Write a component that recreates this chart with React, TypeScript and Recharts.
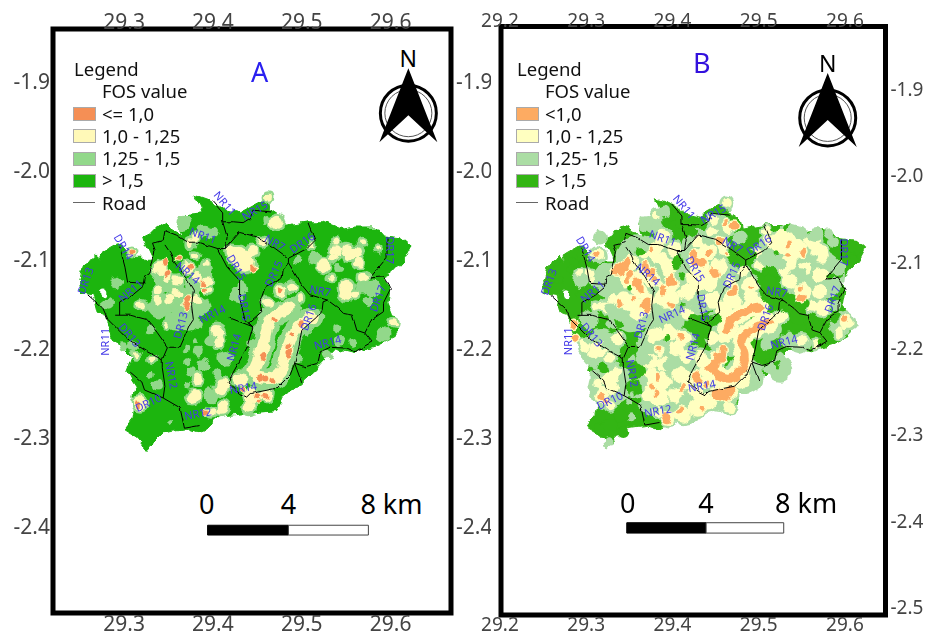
import React from 'react';
import { ScatterChart, Scatter, XAxis, YAxis, ZAxis, ReferenceArea } from 'recharts';

type Patch = [number, number, number];
type Pt = [number, number];

const FONT = '"Noto Sans", sans-serif';

// [lon, lat] of the catchment boundary
const OUTLINE: Pt[] = [
  [29.250, -2.123], [29.254, -2.109], [29.261, -2.100], [29.269, -2.092], [29.270, -2.103], [29.276, -2.091],
  [29.290, -2.083], [29.297, -2.083], [29.310, -2.098], [29.323, -2.098], [29.331, -2.098], [29.323, -2.081],
  [29.321, -2.074], [29.337, -2.066], [29.349, -2.058], [29.354, -2.066], [29.366, -2.072], [29.361, -2.055],
  [29.368, -2.049], [29.389, -2.047], [29.380, -2.027], [29.397, -2.033], [29.416, -2.044], [29.430, -2.047],
  [29.450, -2.036], [29.462, -2.030], [29.464, -2.042], [29.479, -2.052], [29.481, -2.061], [29.506, -2.057],
  [29.524, -2.057], [29.547, -2.066], [29.560, -2.064], [29.585, -2.064], [29.592, -2.072], [29.611, -2.074],
  [29.624, -2.085], [29.616, -2.100], [29.602, -2.115], [29.592, -2.119], [29.600, -2.130], [29.597, -2.148],
  [29.602, -2.160], [29.609, -2.171], [29.603, -2.187], [29.585, -2.196], [29.560, -2.203], [29.540, -2.198],
  [29.518, -2.221], [29.500, -2.238], [29.478, -2.255], [29.472, -2.269], [29.444, -2.272], [29.438, -2.271],
  [29.411, -2.274], [29.393, -2.289], [29.382, -2.293], [29.371, -2.289], [29.344, -2.293], [29.332, -2.305],
  [29.326, -2.314], [29.314, -2.300], [29.299, -2.291], [29.310, -2.277], [29.312, -2.266], [29.310, -2.252],
  [29.314, -2.241], [29.304, -2.226], [29.310, -2.210], [29.299, -2.199], [29.287, -2.188], [29.276, -2.162],
  [29.270, -2.160], [29.265, -2.139], [29.252, -2.137],
];

const ROADS: Pt[][] = [
  [[29.399, -2.033], [29.411, -2.047], [29.411, -2.057], [29.416, -2.074], [29.414, -2.087]],
  [[29.346, -2.067], [29.359, -2.072], [29.372, -2.080], [29.383, -2.080], [29.405, -2.087], [29.414, -2.087], [29.430, -2.069], [29.450, -2.074], [29.470, -2.087], [29.485, -2.098]],
  [[29.411, -2.057], [29.423, -2.057], [29.434, -2.058], [29.442, -2.053], [29.445, -2.044], [29.467, -2.046]],
  [[29.485, -2.098], [29.506, -2.087], [29.515, -2.078], [29.507, -2.058]],
  [[29.485, -2.098], [29.485, -2.103], [29.500, -2.128], [29.509, -2.139], [29.529, -2.145], [29.541, -2.154], [29.547, -2.160], [29.557, -2.162], [29.562, -2.179], [29.571, -2.182], [29.579, -2.192], [29.560, -2.203], [29.551, -2.199], [29.532, -2.198], [29.521, -2.203], [29.518, -2.216], [29.504, -2.220], [29.492, -2.216]],
  [[29.596, -2.074], [29.596, -2.097], [29.586, -2.109], [29.577, -2.120], [29.592, -2.119], [29.600, -2.132], [29.592, -2.148], [29.592, -2.158], [29.579, -2.167], [29.571, -2.182]],
  [[29.529, -2.145], [29.524, -2.147], [29.523, -2.156], [29.517, -2.164], [29.500, -2.179], [29.496, -2.201], [29.492, -2.216], [29.487, -2.229], [29.472, -2.244], [29.442, -2.250], [29.438, -2.254], [29.430, -2.250], [29.417, -2.238], [29.423, -2.226], [29.438, -2.199], [29.445, -2.175], [29.419, -2.165]],
  [[29.492, -2.216], [29.500, -2.238]],
  [[29.485, -2.103], [29.479, -2.111], [29.478, -2.120], [29.459, -2.130], [29.453, -2.147], [29.455, -2.158], [29.440, -2.171], [29.445, -2.175]],
  [[29.405, -2.087], [29.416, -2.108], [29.430, -2.123], [29.430, -2.142], [29.436, -2.167], [29.445, -2.175]],
  [[29.346, -2.083], [29.352, -2.092], [29.357, -2.103], [29.368, -2.117], [29.378, -2.134], [29.376, -2.151], [29.378, -2.167], [29.374, -2.173], [29.363, -2.198], [29.349, -2.198], [29.343, -2.212]],
  [[29.346, -2.067], [29.344, -2.078], [29.332, -2.081], [29.335, -2.089], [29.329, -2.115], [29.323, -2.119], [29.321, -2.130], [29.310, -2.139], [29.295, -2.147], [29.295, -2.162]],
  [[29.295, -2.085], [29.301, -2.108], [29.304, -2.125], [29.323, -2.126]],
  [[29.259, -2.139], [29.276, -2.154], [29.282, -2.167], [29.290, -2.175], [29.303, -2.188], [29.326, -2.203], [29.343, -2.212], [29.343, -2.221], [29.346, -2.241], [29.344, -2.255], [29.363, -2.266], [29.368, -2.289], [29.385, -2.286]],
  [[29.307, -2.226], [29.320, -2.237], [29.323, -2.246], [29.344, -2.255]],
  [[29.290, -2.162], [29.307, -2.162], [29.326, -2.167], [29.337, -2.181], [29.349, -2.198]],
];

const ROAD_LABELS: [string, number, number][] = [
  ['NR11', 29.414, -2.036], ['NR15', 29.447, -2.044], ['NR11', 29.389, -2.072], ['DR14', 29.300, -2.085],
  ['DR13', 29.256, -2.123], ['NR11', 29.307, -2.134], ['NR14', 29.372, -2.114], ['DR15', 29.427, -2.108],
  ['DR15', 29.436, -2.153], ['NR14', 29.399, -2.160], ['DR13', 29.363, -2.173], ['NR7', 29.470, -2.080],
  ['DR15', 29.468, -2.115], ['DR16', 29.500, -2.080], ['NR7', 29.521, -2.134], ['DR17', 29.600, -2.089],
  ['DR17', 29.585, -2.143], ['DR16', 29.507, -2.164], ['NR14', 29.529, -2.192], ['NR14', 29.423, -2.198],
  ['NR12', 29.354, -2.229], ['DR13', 29.307, -2.184], ['NR11', 29.278, -2.192], ['DR10', 29.327, -2.260],
  ['NR12', 29.383, -2.272], ['NR14', 29.434, -2.243],
];
const LABEL_TILT = [50, -30, 20, 60, -70, -40, 40, 60, 80, -25, -75, 30, -65, -35, 10, 90, -70, -70, -15, -75, 80, 50, -90, -25, -10, -10];

const HOLE: Patch[] = [[29.276, -2.136, 40]];

// panel A: [lon, lat, patch area]
const A_MID: Patch[] = [
  [29.368, -2.058, 201], [29.389, -2.066, 113], [29.282, -2.148, 113], [29.290, -2.125, 113], [29.320, -2.153, 79],
  [29.346, -2.123, 452], [29.363, -2.145, 616], [29.340, -2.151, 452], [29.380, -2.128, 314], [29.385, -2.151, 314],
  [29.374, -2.167, 314], [29.357, -2.167, 314], [29.391, -2.111, 201], [29.427, -2.139, 201], [29.400, -2.069, 113],
  [29.496, -2.100, 79], [29.515, -2.098, 154], [29.541, -2.109, 50], [29.569, -2.130, 201], [29.580, -2.132, 201],
  [29.575, -2.147, 79], [29.434, -2.130, 79], [29.541, -2.177, 50], [29.543, -2.190, 79], [29.557, -2.192, 79],
  [29.529, -2.207, 79], [29.592, -2.184, 154], [29.507, -2.182, 28], [29.496, -2.210, 50], [29.442, -2.192, 50],
  [29.299, -2.198, 79], [29.310, -2.196, 79], [29.329, -2.179, 50], [29.383, -2.173, 50], [29.382, -2.190, 28],
  [29.371, -2.199, 28], [29.383, -2.203, 79], [29.389, -2.218, 154], [29.371, -2.216, 28], [29.374, -2.226, 50],
  [29.372, -2.241, 28], [29.405, -2.229, 79], [29.414, -2.210, 201], [29.397, -2.252, 154], [29.337, -2.241, 79],
  [29.329, -2.229, 50], [29.352, -2.282, 28], [29.445, -2.226, 50], [29.397, -2.190, 113], [29.459, -2.055, 50],
];
const A_YELLOW: Patch[] = [
  [29.340, -2.109, 154], [29.349, -2.119, 79], [29.371, -2.109, 79], [29.374, -2.081, 50], [29.361, -2.123, 79],
  [29.382, -2.119, 79], [29.393, -2.123, 79], [29.338, -2.134, 50], [29.338, -2.145, 79], [29.352, -2.145, 79],
  [29.320, -2.151, 50], [29.359, -2.137, 50], [29.382, -2.145, 79], [29.397, -2.134, 28], [29.393, -2.103, 28],
  [29.380, -2.094, 28], [29.371, -2.147, 79], [29.310, -2.091, 28], [29.436, -2.102, 314], [29.428, -2.094, 201],
  [29.421, -2.091, 113], [29.380, -2.075, 50], [29.472, -2.057, 113], [29.444, -2.090, 79], [29.456, -2.080, 50],
  [29.524, -2.107, 113], [29.538, -2.078, 50], [29.538, -2.089, 79], [29.535, -2.098, 50], [29.551, -2.089, 113],
  [29.560, -2.092, 113], [29.554, -2.094, 113], [29.563, -2.103, 50], [29.569, -2.080, 28], [29.586, -2.087, 28],
  [29.512, -2.083, 28], [29.534, -2.120, 28], [29.551, -2.130, 113], [29.551, -2.139, 113], [29.569, -2.120, 79],
  [29.560, -2.139, 28], [29.489, -2.130, 79], [29.476, -2.134, 113], [29.462, -2.148, 50], [29.479, -2.154, 113],
  [29.498, -2.143, 28], [29.603, -2.171, 50], [29.445, -2.254, 201], [29.459, -2.252, 113], [29.440, -2.266, 79],
  [29.382, -2.233, 79], [29.378, -2.254, 154], [29.410, -2.243, 201], [29.406, -2.181, 154], [29.406, -2.193, 79],
  [29.411, -2.266, 113], [29.400, -2.271, 79], [29.430, -2.233, 154], [29.332, -2.212, 28], [29.314, -2.207, 28],
  [29.318, -2.261, 154], [29.450, -2.212, 79], [29.346, -2.173, 28], [29.462, -2.030, 50],
];
const A_GREEN: Patch[] = [];
const A_MID_TOP: Patch[] = [];
const A_ORANGE: Patch[] = [
  [29.346, -2.102, 50], [29.349, -2.115, 50], [29.361, -2.099, 20], [29.374, -2.108, 20], [29.388, -2.126, 28],
  [29.392, -2.134, 13], [29.371, -2.143, 50], [29.371, -2.152, 50], [29.310, -2.091, 20], [29.446, -2.110, 20],
  [29.476, -2.134, 28], [29.489, -2.184, 20], [29.485, -2.198, 28], [29.485, -2.205, 28], [29.470, -2.167, 20],
  [29.456, -2.209, 50], [29.453, -2.233, 28], [29.459, -2.233, 28], [29.467, -2.235, 28], [29.500, -2.171, 28],
  [29.451, -2.252, 28], [29.459, -2.253, 28], [29.451, -2.261, 20], [29.434, -2.246, 28], [29.314, -2.263, 20],
  [29.393, -2.272, 20],
];
const A_RIDGES: Pt[][] = [
  [[29.487, -2.154], [29.470, -2.162], [29.461, -2.175], [29.456, -2.198], [29.450, -2.216], [29.447, -2.229], [29.462, -2.233], [29.476, -2.227], [29.481, -2.209], [29.487, -2.190], [29.495, -2.176], [29.512, -2.164]],
];
const A_ORANGE_RIDGES: Pt[][] = [];

// panel B
const B_MID: Patch[] = [
  [29.362, -2.098, 1963], [29.327, -2.121, 1018], [29.397, -2.121, 1963], [29.351, -2.156, 1520], [29.391, -2.167, 1256],
  [29.432, -2.086, 1256], [29.455, -2.127, 1963], [29.432, -2.144, 707], [29.478, -2.144, 707], [29.536, -2.086, 1963],
  [29.571, -2.115, 1963], [29.513, -2.086, 707], [29.548, -2.127, 1256], [29.316, -2.202, 1256], [29.328, -2.242, 1520],
  [29.385, -2.202, 1963], [29.385, -2.248, 2463], [29.432, -2.231, 1963], [29.417, -2.271, 707], [29.466, -2.179, 1963],
  [29.483, -2.231, 1256], [29.455, -2.260, 452], [29.513, -2.179, 452], [29.525, -2.225, 452], [29.594, -2.172, 452],
  [29.548, -2.193, 314], [29.455, -2.061, 452], [29.380, -2.060, 201], [29.304, -2.167, 314], [29.316, -2.072, 154],
  [29.293, -2.121, 201],
];
const B_YELLOW: Patch[] = [
  [29.382, -2.046, 79], [29.389, -2.071, 201], [29.383, -2.083, 113], [29.401, -2.086, 154], [29.377, -2.090, 113],
  [29.385, -2.098, 201], [29.397, -2.106, 254], [29.366, -2.094, 50], [29.351, -2.101, 201], [29.336, -2.109, 154],
  [29.347, -2.121, 201], [29.362, -2.117, 154], [29.377, -2.121, 201], [29.397, -2.129, 254], [29.362, -2.133, 201],
  [29.343, -2.141, 113], [29.331, -2.144, 113], [29.351, -2.148, 201], [29.370, -2.146, 254], [29.389, -2.144, 254],
  [29.401, -2.141, 154], [29.322, -2.153, 113], [29.308, -2.121, 28], [29.314, -2.092, 113], [29.304, -2.115, 50],
  [29.293, -2.113, 28], [29.312, -2.152, 50], [29.359, -2.159, 201], [29.424, -2.121, 201], [29.426, -2.094, 154],
  [29.417, -2.136, 201], [29.417, -2.159, 113], [29.463, -2.032, 79], [29.447, -2.052, 79], [29.464, -2.061, 113],
  [29.446, -2.065, 79], [29.429, -2.077, 113], [29.458, -2.084, 113], [29.440, -2.089, 254], [29.455, -2.104, 201],
  [29.432, -2.107, 314], [29.443, -2.123, 254], [29.467, -2.123, 79], [29.429, -2.127, 201], [29.446, -2.144, 201],
  [29.470, -2.144, 201], [29.490, -2.127, 201], [29.509, -2.065, 79], [29.528, -2.077, 452], [29.544, -2.084, 314],
  [29.563, -2.077, 201], [29.571, -2.092, 254], [29.536, -2.100, 201], [29.554, -2.107, 113], [29.571, -2.115, 201],
  [29.498, -2.089, 113], [29.501, -2.104, 79], [29.536, -2.123, 201], [29.551, -2.135, 254], [29.571, -2.135, 154],
  [29.490, -2.142, 154], [29.513, -2.077, 113], [29.562, -2.152, 79], [29.574, -2.153, 154], [29.482, -2.112, 79],
  [29.602, -2.165, 50], [29.530, -2.112, 79], [29.299, -2.198, 154], [29.316, -2.200, 201], [29.337, -2.190, 113],
  [29.328, -2.211, 79], [29.328, -2.234, 201], [29.336, -2.227, 79], [29.314, -2.239, 79], [29.318, -2.248, 50],
  [29.330, -2.246, 113], [29.328, -2.266, 79], [29.319, -2.257, 201], [29.308, -2.208, 50], [29.380, -2.185, 201],
  [29.397, -2.181, 201], [29.412, -2.188, 201], [29.405, -2.200, 201], [29.385, -2.204, 79], [29.374, -2.216, 201],
  [29.389, -2.219, 201], [29.417, -2.208, 154], [29.374, -2.234, 201], [29.389, -2.239, 254], [29.409, -2.231, 254],
  [29.372, -2.254, 201], [29.385, -2.257, 254], [29.405, -2.254, 201], [29.417, -2.242, 113], [29.382, -2.274, 113],
  [29.397, -2.281, 154], [29.412, -2.277, 201], [29.428, -2.269, 201], [29.435, -2.216, 113], [29.440, -2.239, 154],
  [29.432, -2.262, 113], [29.451, -2.211, 113], [29.447, -2.188, 113], [29.463, -2.185, 154], [29.458, -2.156, 201],
  [29.486, -2.152, 154], [29.432, -2.210, 113], [29.458, -2.187, 113], [29.498, -2.182, 113], [29.513, -2.175, 154],
  [29.525, -2.164, 113], [29.551, -2.190, 79], [29.567, -2.194, 79], [29.594, -2.182, 79], [29.602, -2.171, 154],
  [29.478, -2.240, 113], [29.486, -2.237, 79], [29.455, -2.251, 201], [29.467, -2.268, 113], [29.441, -2.263, 201],
  [29.428, -2.252, 154], [29.455, -2.210, 113], [29.435, -2.237, 79], [29.470, -2.252, 113],
];
const B_GREEN: Patch[] = [
  [29.401, -2.043, 254], [29.411, -2.055, 154], [29.406, -2.098, 79], [29.405, -2.106, 50], [29.411, -2.117, 28],
  [29.336, -2.071, 113], [29.345, -2.067, 113], [29.362, -2.089, 50], [29.295, -2.092, 113], [29.285, -2.101, 113],
  [29.283, -2.109, 79], [29.304, -2.133, 79], [29.264, -2.101, 28], [29.270, -2.121, 50], [29.260, -2.117, 50],
  [29.296, -2.136, 79], [29.312, -2.133, 28], [29.302, -2.148, 50], [29.351, -2.130, 28], [29.424, -2.065, 50],
  [29.490, -2.090, 113], [29.478, -2.100, 113], [29.484, -2.086, 113], [29.519, -2.061, 50], [29.533, -2.061, 28],
  [29.522, -2.090, 28], [29.513, -2.113, 154], [29.507, -2.112, 79], [29.513, -2.123, 113], [29.525, -2.138, 154],
  [29.536, -2.144, 154], [29.551, -2.150, 113], [29.533, -2.153, 113], [29.542, -2.159, 201], [29.598, -2.083, 113],
  [29.609, -2.084, 201], [29.602, -2.094, 154], [29.609, -2.098, 79], [29.591, -2.113, 113], [29.582, -2.117, 28],
  [29.592, -2.153, 50], [29.536, -2.152, 154], [29.544, -2.164, 201], [29.559, -2.167, 154], [29.565, -2.175, 201],
  [29.574, -2.179, 113], [29.586, -2.164, 113], [29.574, -2.193, 50], [29.515, -2.210, 28], [29.509, -2.216, 28],
  [29.522, -2.219, 28], [29.443, -2.171, 154], [29.451, -2.167, 79], [29.440, -2.185, 28], [29.424, -2.170, 79],
  [29.432, -2.167, 113], [29.522, -2.148, 50], [29.353, -2.200, 154], [29.348, -2.216, 113], [29.359, -2.227, 201],
  [29.354, -2.245, 201], [29.356, -2.262, 113], [29.347, -2.274, 154], [29.362, -2.277, 113], [29.339, -2.277, 154],
  [29.328, -2.289, 154], [29.316, -2.292, 79], [29.343, -2.297, 113], [29.382, -2.286, 28], [29.319, -2.222, 79],
  [29.394, -2.187, 28], [29.336, -2.171, 50], [29.432, -2.181, 50], [29.441, -2.179, 113], [29.423, -2.165, 50],
];
const B_MID_TOP: Patch[] = [
  [29.368, -2.213, 113], [29.366, -2.239, 79], [29.399, -2.219, 154], [29.385, -2.196, 79], [29.424, -2.202, 79],
  [29.365, -2.196, 79], [29.412, -2.260, 79], [29.380, -2.271, 50], [29.322, -2.196, 79], [29.304, -2.190, 79],
  [29.328, -2.173, 79], [29.382, -2.106, 50], [29.327, -2.153, 79], [29.505, -2.098, 113], [29.525, -2.104, 79],
  [29.548, -2.112, 79], [29.563, -2.096, 50], [29.478, -2.072, 154], [29.443, -2.077, 50], [29.591, -2.106, 201],
  [29.586, -2.077, 113], [29.567, -2.069, 154], [29.582, -2.067, 79], [29.548, -2.123, 50], [29.591, -2.150, 79],
  [29.370, -2.055, 201], [29.389, -2.043, 154], [29.351, -2.262, 50], [29.352, -2.280, 50], [29.325, -2.310, 50],
  [29.354, -2.252, 28], [29.354, -2.213, 28], [29.470, -2.190, 28], [29.509, -2.196, 113], [29.525, -2.210, 79],
  [29.511, -2.224, 79], [29.533, -2.190, 154],
];
const B_ORANGE: Patch[] = [
  [29.337, -2.109, 113], [29.348, -2.100, 79], [29.345, -2.104, 79], [29.351, -2.115, 79], [29.347, -2.121, 28],
  [29.360, -2.124, 50], [29.362, -2.130, 28], [29.368, -2.106, 50], [29.374, -2.113, 50], [29.380, -2.121, 28],
  [29.388, -2.129, 38], [29.391, -2.135, 38], [29.397, -2.121, 79], [29.401, -2.123, 28], [29.370, -2.146, 79],
  [29.370, -2.153, 79], [29.339, -2.146, 28], [29.341, -2.150, 28], [29.356, -2.144, 20], [29.377, -2.084, 20],
  [29.312, -2.092, 28], [29.395, -2.148, 20], [29.399, -2.150, 20], [29.424, -2.092, 50], [29.428, -2.100, 50],
  [29.434, -2.101, 50], [29.449, -2.113, 79], [29.441, -2.090, 28], [29.461, -2.055, 28], [29.472, -2.057, 28],
  [29.455, -2.077, 50], [29.463, -2.090, 13], [29.469, -2.135, 50], [29.472, -2.130, 28], [29.490, -2.129, 13],
  [29.534, -2.080, 28], [29.534, -2.092, 28], [29.551, -2.089, 38], [29.550, -2.130, 13], [29.550, -2.141, 50],
  [29.600, -2.167, 28], [29.455, -2.211, 113], [29.449, -2.219, 79], [29.457, -2.254, 201], [29.467, -2.250, 79],
  [29.428, -2.229, 50], [29.438, -2.242, 28], [29.409, -2.188, 50], [29.383, -2.202, 20], [29.382, -2.233, 28],
  [29.411, -2.246, 28], [29.377, -2.245, 20], [29.380, -2.252, 20], [29.409, -2.271, 28], [29.394, -2.281, 79],
  [29.435, -2.269, 28], [29.318, -2.257, 38], [29.322, -2.262, 28], [29.285, -2.173, 50], [29.289, -2.188, 28],
  [29.428, -2.234, 79], [29.458, -2.202, 28],
];
const B_ORANGE_RIDGES: Pt[][] = [
  [[29.501, -2.153], [29.484, -2.157], [29.469, -2.167], [29.463, -2.179]],
  [[29.511, -2.170], [29.487, -2.181], [29.480, -2.196], [29.484, -2.211], [29.475, -2.231], [29.457, -2.234], [29.443, -2.223]],
];

const A_LEGEND = ['<= 1,0', '1,0 - 1,25', '1,25 - 1,5', '> 1,5'];
const B_LEGEND = ['<1,0', '1,0 - 1,25', '1,25- 1,5', '> 1,5'];
const A_COLORS = ['#f58f55', '#fff9b8', '#92d88a', '#1cb50e'];
const B_COLORS = ['#fdab62', '#ffffc0', '#abdda4', '#33b514'];

const rows = (pts: number[][]) => pts.map(([lon, lat, z]) => ({ lon, lat, z }));

const Nothing = () => <g />;

function LabelMark(props: any) {
  const { cx, cy, payload, index } = props;
  return (
    <text x={cx} y={cy} transform={`rotate(${LABEL_TILT[index]} ${cx} ${cy})`} textAnchor="middle" dominantBaseline="central"
      fontFamily={FONT} fontSize={11} fill="#4338e8">{payload.name}</text>
  );
}

function NorthArrow(props: any) {
  const { cx, cy } = props;
  return (
    <g>
      <circle cx={cx} cy={cy} r={28} fill="#fff" stroke="#000" strokeWidth={3} />
      <circle cx={cx} cy={cy} r={23.5} fill="none" stroke="#555" strokeWidth={1} />
      <path d={`M${cx} ${cy - 45} L${cx + 29} ${cy + 29} L${cx} ${cy + 2} L${cx - 29} ${cy + 29} Z`} fill="#000" />
      <text x={cx} y={cy - 46} textAnchor="middle" fontFamily={FONT} fontSize={23} fill="#000">N</text>
    </g>
  );
}

function ScaleText(props: any) {
  const { cx, cy, payload } = props;
  return <text x={cx} y={cy} textAnchor={payload.name.length > 1 ? 'start' : 'middle'} dominantBaseline="central" fontFamily={FONT} fontSize={27} fill="#000">{payload.name}</text>;
}

function Legend({ left, title, labels, colors }: any) {
  const rowStyle = (top: number): React.CSSProperties => ({ position: 'absolute', left: 29, top: top - 10, lineHeight: '20px', whiteSpace: 'nowrap' });
  return (
    <div style={{ position: 'absolute', left, top: 0, fontFamily: FONT, fontSize: 18.5, color: '#111' }}>
      <div style={{ ...rowStyle(69), left: 1 }}>Legend</div>
      <div style={rowStyle(91)}>FOS value</div>
      {labels.map((label: string, i: number) => (
        <React.Fragment key={label}>
          <div style={{ position: 'absolute', left: 0, top: 107 + i * 22.3, width: 21, height: 12, background: colors[i], border: '1px solid #aaa' }} />
          <div style={rowStyle(113.5 + i * 22.3)}>{label}</div>
        </React.Fragment>
      ))}
      <div style={{ position: 'absolute', left: 0, top: 202, width: 22, height: 1, background: '#666' }} />
      <div style={rowStyle(202.5)}>Road</div>
      <div style={{ position: 'absolute', left: title.x, top: title.y - 17, fontSize: 27, lineHeight: '34px', color: title.color }}>{title.text}</div>
    </div>
  );
}

function Panel(p: any) {
  const [c0, c1, c2, c3] = p.colors;
  const axisText = { fontFamily: FONT, fontSize: p.tickFont, fill: '#444' };
  const fmt = (v: number) => v.toFixed(1);
  const haloLine = { stroke: c2, strokeWidth: p.ridgeHalo, strokeLinecap: 'round', strokeLinejoin: 'round', fill: 'none' };
  const yellowLine = { stroke: c1, strokeWidth: p.ridgeCore, strokeLinecap: 'round', strokeLinejoin: 'round', fill: 'none' };
  const orangeLine = { stroke: c0, strokeWidth: 8, strokeLinecap: 'round', strokeLinejoin: 'round', fill: 'none' };
  const orangeHalo = { stroke: c1, strokeWidth: 18, strokeLinecap: 'round', strokeLinejoin: 'round', fill: 'none' };
  return (
    <div style={{ position: 'absolute', left: p.left, top: 0 }}>
      <ScatterChart width={p.width} height={638} margin={p.margin}>
        <XAxis xAxisId="bottom" orientation="bottom" type="number" dataKey="lon" domain={p.xDomain} ticks={p.xTicks} interval={0} height={p.bottomH}
          axisLine={false} tickLine={false} tickSize={0} tickMargin={3} tick={axisText} {...axisText} tickFormatter={fmt} allowDataOverflow />
        <XAxis xAxisId="top" orientation="top" type="number" dataKey="lon" domain={p.xDomain} ticks={p.xTicks} interval={0} height={p.topH}
          axisLine={false} tickLine={false} tickSize={0} tickMargin={0} tick={axisText} {...axisText} tickFormatter={fmt} allowDataOverflow />
        {p.leftAxis && (
          <YAxis yAxisId="left" orientation="left" type="number" dataKey="lat" domain={p.yDomain} ticks={p.yTicks} interval={0} width={p.leftW}
            axisLine={false} tickLine={false} tickSize={0} tickMargin={3} tick={axisText} {...axisText} tickFormatter={fmt} allowDataOverflow />
        )}
        <YAxis yAxisId="right" orientation="right" type="number" dataKey="lat" domain={p.yDomain} ticks={p.yTicks} interval={0} width={p.rightW}
          axisLine={false} tickLine={false} tickSize={0} tickMargin={5} tick={axisText} {...axisText} tickFormatter={fmt} allowDataOverflow />
        <ZAxis dataKey="z" domain={[0, 3000]} range={[0, 3000]} />

        <Scatter className="rough" xAxisId="bottom" yAxisId="right" data={rows(OUTLINE)} shape={Nothing} line={{ stroke: c3, strokeWidth: 1, fill: c3 }} isAnimationActive={false} />
        <Scatter className="rough" xAxisId="bottom" yAxisId="right" data={rows(p.mid)} fill={c2} isAnimationActive={false} />
        <Scatter className="rough" xAxisId="bottom" yAxisId="right" data={rows(p.yellow)} fill={c2} stroke={c2} strokeWidth={5} isAnimationActive={false} />
        {p.ridges.map((r: Pt[], i: number) => (
          <Scatter key={`h${i}`} className="rough" xAxisId="bottom" yAxisId="right" data={rows(r)} shape={Nothing} lineJointType="natural" line={haloLine} isAnimationActive={false} />
        ))}
        {p.ridges.map((r: Pt[], i: number) => (
          <Scatter key={`y${i}`} className="rough" xAxisId="bottom" yAxisId="right" data={rows(r)} shape={Nothing} lineJointType="natural" line={yellowLine} isAnimationActive={false} />
        ))}
        <Scatter className="rough" xAxisId="bottom" yAxisId="right" data={rows(p.yellow)} fill={c1} isAnimationActive={false} />
        <Scatter className="rough" xAxisId="bottom" yAxisId="right" data={rows(p.green)} fill={c3} isAnimationActive={false} />
        <Scatter className="rough" xAxisId="bottom" yAxisId="right" data={rows(p.midTop)} fill={c2} isAnimationActive={false} />
        <Scatter className="rough" xAxisId="bottom" yAxisId="right" data={rows(p.orange)} fill={c1} stroke={c1} strokeWidth={p.orangeHaloW} isAnimationActive={false} />
        {p.orangeRidges.map((r: Pt[], i: number) => (
          <Scatter key={`oh${i}`} className="rough" xAxisId="bottom" yAxisId="right" data={rows(r)} shape={Nothing} lineJointType="natural" line={orangeHalo} isAnimationActive={false} />
        ))}
        {p.orangeRidges.map((r: Pt[], i: number) => (
          <Scatter key={`o${i}`} className="rough" xAxisId="bottom" yAxisId="right" data={rows(r)} shape={Nothing} lineJointType="natural" line={orangeLine} isAnimationActive={false} />
        ))}
        <Scatter className="rough" xAxisId="bottom" yAxisId="right" data={rows(p.orange)} fill={c0} isAnimationActive={false} />
        <Scatter className="rough" xAxisId="bottom" yAxisId="right" data={rows(HOLE)} fill="#fff" isAnimationActive={false} />
        {ROADS.map((r, i) => (
          <Scatter key={`r${i}`} className="jag" xAxisId="bottom" yAxisId="right" data={rows(r)} shape={Nothing} line={{ stroke: '#000', strokeWidth: 1, fill: 'none' }} isAnimationActive={false} />
        ))}
        <Scatter xAxisId="bottom" yAxisId="right" data={ROAD_LABELS.map(([name, lon, lat]) => ({ name, lon, lat }))} shape={LabelMark} isAnimationActive={false} />
        <Scatter xAxisId="bottom" yAxisId="right" data={[p.north]} shape={NorthArrow} isAnimationActive={false} />
        <Scatter xAxisId="bottom" yAxisId="right" data={p.scaleText} shape={ScaleText} isAnimationActive={false} />

        <ReferenceArea xAxisId="bottom" yAxisId="right" x1={p.bar[0]} x2={p.bar[1]} y1={p.bar[3]} y2={p.bar[4]} fill="#000" fillOpacity={1} stroke="#000" />
        <ReferenceArea xAxisId="bottom" yAxisId="right" x1={p.bar[1]} x2={p.bar[2]} y1={p.bar[3]} y2={p.bar[4]} fill="#fff" fillOpacity={1} stroke="#444" />
        <ReferenceArea xAxisId="bottom" yAxisId="right" x1={p.xDomain[0]} x2={p.xDomain[1]} y1={p.yDomain[0]} y2={p.yDomain[1]} fill="none" stroke="#000" strokeWidth={5} ifOverflow="visible" />
      </ScatterChart>
    </div>
  );
}

export default function App() {
  return (
    <div style={{ position: 'absolute', left: 0, top: 0, width: 925, height: 638, background: '#fff', overflow: 'hidden' }}>
      <style>{'g.rough{filter:url(#rough)} g.jag{filter:url(#jag)}'}</style>
      <svg width={0} height={0} style={{ position: 'absolute' }}>
        <defs>
          <filter id="rough" filterUnits="userSpaceOnUse" x={0} y={0} width={925} height={638} colorInterpolationFilters="sRGB">
            <feTurbulence type="fractalNoise" baseFrequency={0.09} numOctaves={2} seed={4} result="n" />
            <feDisplacementMap in="SourceGraphic" in2="n" scale={9} xChannelSelector="R" yChannelSelector="G" />
          </filter>
          <filter id="jag" filterUnits="userSpaceOnUse" x={0} y={0} width={925} height={638} colorInterpolationFilters="sRGB">
            <feTurbulence type="fractalNoise" baseFrequency={0.12} numOctaves={2} seed={9} result="n" />
            <feDisplacementMap in="SourceGraphic" in2="n" scale={3} xChannelSelector="R" yChannelSelector="G" />
          </filter>
        </defs>
      </svg>
      <Panel left={0} width={491} leftAxis tickFont={21} leftW={53} rightW={40} topH={29} bottomH={25} margin={{ top: 0, right: 0, bottom: 0, left: 0 }}
        xDomain={[29.22, 29.668]} yDomain={[-2.4966, -1.8404]} xTicks={[29.3, 29.4, 29.5, 29.6]} yTicks={[-1.9, -2.0, -2.1, -2.2, -2.3, -2.4]}
        colors={A_COLORS} mid={A_MID} yellow={A_YELLOW} green={A_GREEN} midTop={A_MID_TOP} orange={A_ORANGE} ridges={A_RIDGES} orangeRidges={A_ORANGE_RIDGES}
        ridgeHalo={22} ridgeCore={11} orangeHaloW={2}
        north={{ lon: 29.620, lat: -1.935 }} bar={[29.394, 29.485, 29.575, -2.409, -2.398]}
        scaleText={[{ name: '0', lon: 29.393, lat: -2.374 }, { name: '4', lon: 29.485, lat: -2.374 }, { name: '8 km', lon: 29.566, lat: -2.374 }]} />
      <Panel left={461} width={464} tickFont={19} rightW={39.5} topH={26.5} bottomH={23} margin={{ top: 0, right: 0, bottom: 0, left: 40 }}
        xDomain={[29.2012, 29.647]} yDomain={[-2.5088, -1.8277]} xTicks={[29.2, 29.3, 29.4, 29.5, 29.6]} yTicks={[-1.9, -2.0, -2.1, -2.2, -2.3, -2.4, -2.5]}
        colors={B_COLORS} mid={B_MID} yellow={B_YELLOW} green={B_GREEN} midTop={B_MID_TOP} orange={B_ORANGE} ridges={[]} orangeRidges={B_ORANGE_RIDGES}
        ridgeHalo={22} ridgeCore={11} orangeHaloW={3}
        north={{ lon: 29.580, lat: -1.9335 }} bar={[29.347, 29.439, 29.529, -2.414, -2.402]}
        scaleText={[{ name: '0', lon: 29.348, lat: -2.379 }, { name: '4', lon: 29.439, lat: -2.379 }, { name: '8 km', lon: 29.519, lat: -2.379 }]} />
      <Legend left={73} labels={A_LEGEND} colors={A_COLORS} title={{ text: 'A', x: 178, y: 72, color: '#2a20f0' }} />
      <Legend left={516} labels={B_LEGEND} colors={B_COLORS} title={{ text: 'B', x: 177, y: 63, color: '#3311dd' }} />
    </div>
  );
}
